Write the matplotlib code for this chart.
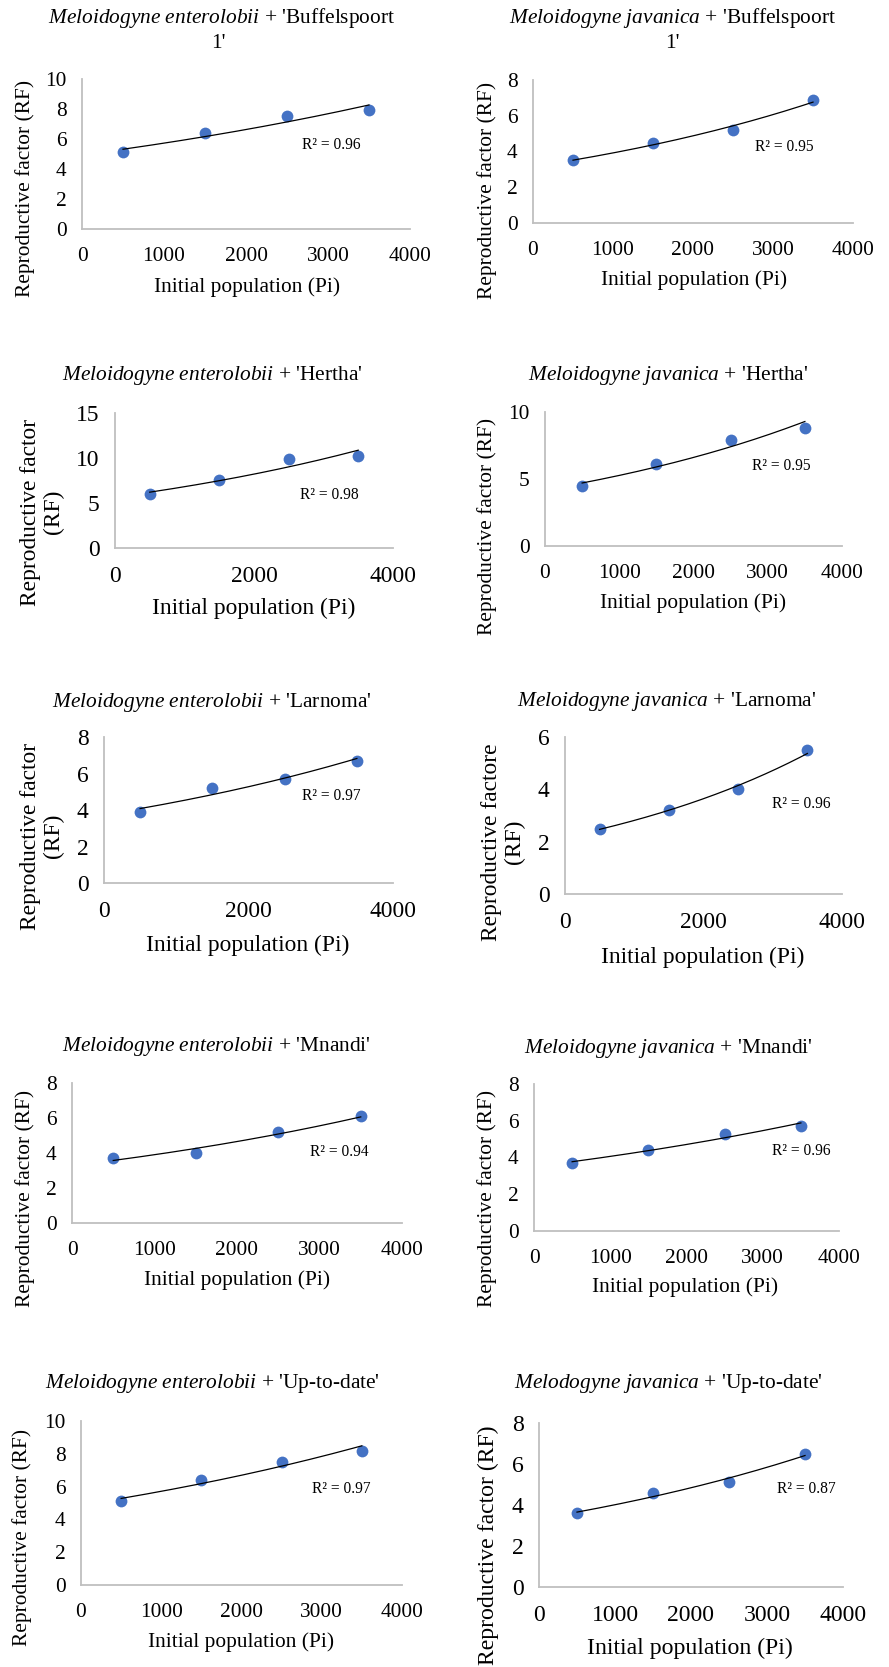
import numpy as np
import matplotlib
matplotlib.use("Agg")
import matplotlib.pyplot as plt

plt.rcParams['font.family'] = ['Liberation Serif', 'DejaVu Serif']
plt.rcParams['mathtext.fontset'] = 'custom'
plt.rcParams['mathtext.rm'] = 'Liberation Serif'
plt.rcParams['mathtext.it'] = 'Liberation Serif:italic'

# ---------------- data ----------------
pi_levels = [500, 1500, 2500, 3500]

species = ["Meloidogyne enterolobii", "Meloidogyne javanica",
           "Meloidogyne enterolobii", "Meloidogyne javanica",
           "Meloidogyne enterolobii", "Meloidogyne javanica",
           "Meloidogyne enterolobii", "Meloidogyne javanica",
           "Meloidogyne enterolobii", "Melodogyne javanica"]
cultivars = ["'Buffelspoort", "'Buffelspoort", "'Hertha'", "'Hertha'",
             "'Larnoma'", "'Larnoma'", "'Mnandi'", "'Mnandi'",
             "'Up-to-date'", "'Up-to-date'"]
title_line2 = ["1'", "1'", "", "", "", "", "", "", "", ""]

rf_me_buffelspoort = [5.1, 6.4, 7.5, 7.9]
rf_mj_buffelspoort = [3.5, 4.5, 5.2, 6.9]
rf_me_hertha = [6.0, 7.5, 9.9, 10.2]
rf_mj_hertha = [4.5, 6.1, 7.9, 8.8]
rf_me_larnoma = [3.9, 5.2, 5.7, 6.7]
rf_mj_larnoma = [2.5, 3.2, 4.0, 5.5]
rf_me_mnandi = [3.7, 4.0, 5.2, 6.1]
rf_mj_mnandi = [3.7, 4.4, 5.3, 5.7]
rf_me_uptodate = [5.1, 6.4, 7.5, 8.2]
rf_mj_uptodate = [3.6, 4.6, 5.1, 6.5]
rf_series = [rf_me_buffelspoort, rf_mj_buffelspoort, rf_me_hertha, rf_mj_hertha,
             rf_me_larnoma, rf_mj_larnoma, rf_me_mnandi, rf_mj_mnandi,
             rf_me_uptodate, rf_mj_uptodate]

r2_values = ["0.96", "0.95", "0.98", "0.95", "0.97", "0.96", "0.94", "0.96", "0.97", "0.87"]

ylabels = ["Reproductive factor (RF)", "Reproductive factor (RF)",
           "Reproductive factor\n(RF)", "Reproductive factor (RF)",
           "Reproductive factor\n(RF)", "Reproductive factore\n(RF)",
           "Reproductive factor (RF)", "Reproductive factor (RF)",
           "Reproductive factor (RF)", "Reproductive factor (RF)"]
xlabel_text = "Initial population (Pi)"

y_max = [10, 8, 15, 10, 8, 6, 8, 8, 10, 8]
y_step = [2, 2, 5, 5, 2, 2, 2, 2, 2, 2]
x_step = [1000, 1000, 2000, 1000, 2000, 2000, 1000, 1000, 1000, 1000]
x_max = 4000

# ---------------- layout (pixels in 889x1667 canvas) ----------------
W, H = 889, 1667
# axes: x0, x1, y_top, y_bottom
axes_px = [(82, 410, 79, 229), (533, 853, 80, 223),
           (115, 393, 413, 548), (545, 842, 412, 546),
           (104, 393, 737, 883), (565, 842, 737, 894),
           (72, 402, 1083, 1223), (534, 839, 1084, 1231),
           (81, 402, 1421, 1585), (539, 843, 1423, 1587)]
fsz = [15.4, 15.4, 16.9, 15.4, 16.9, 16.9, 15.4, 15.4, 15.4, 17.1]
title_pos = [(222, 18), (673, 18), (212, 375), (668, 375), (212, 702),
             (667, 701), (216, 1047), (668, 1048), (212, 1383), (668, 1383)]
title2_pos = [(218, 43), (672, 43)]
ylab_pos = [(25, 188), (487, 190), (42, 512), (487, 526), (42, 836),
            (503, 842), (25, 1198), (487, 1198), (22, 1537), (488, 1545)]
xlab_pos = [(247, 287), (694, 280), (254, 608), (693, 603), (248, 945),
            (703, 957), (237, 1280), (685, 1287), (241, 1642), (690, 1648)]
r2_pos = [(302, 145), (755, 147), (300, 495), (752, 466), (302, 796),
          (772, 804), (310, 1152), (772, 1151), (312, 1489), (777, 1489)]

title_fs = 15.4
r2_fs = 11.2
marker_color = "#4472C4"
axis_color = "#BFBFBF"


def fx(px):
    return px / W


def fy(py):
    return 1 - py / H


fig = plt.figure(figsize=(W / 100, H / 100), dpi=100)
fig.patch.set_facecolor("white")

for i in range(10):
    x0, x1, yt, yb = axes_px[i]
    ax = fig.add_axes([fx(x0), fy(yb), (x1 - x0) / W, (yb - yt) / H])
    x = np.array(pi_levels, dtype=float)
    y = np.array(rf_series[i], dtype=float)
    ax.scatter(x, y, s=72, color=marker_color, zorder=3, linewidths=0,
               clip_on=False)
    b, a = np.polyfit(x, np.log(y), 1)
    xx = np.linspace(x.min(), x.max(), 200)
    ax.plot(xx, np.exp(a) * np.exp(b * xx), color="black", lw=0.9, zorder=4)
    ax.set_xlim(0, x_max)
    ax.set_ylim(0, y_max[i])
    ax.set_xticks(np.arange(0, x_max + 1, x_step[i]))
    ax.set_yticks(np.arange(0, y_max[i] + 0.001, y_step[i]))
    for s in ["top", "right"]:
        ax.spines[s].set_visible(False)
    for s in ["left", "bottom"]:
        ax.spines[s].set_color(axis_color)
        ax.spines[s].set_linewidth(1.3)
    ax.tick_params(axis="both", length=0, labelsize=fsz[i], colors="black")
    ax.tick_params(axis="x", pad=13)
    ax.tick_params(axis="y", pad=11)
    ax.set_facecolor("none")

    # title
    tx, ty = title_pos[i]
    sp = species[i].replace(" ", r"\ ")
    fig.text(fx(tx), fy(ty), r"$\mathit{" + sp + "}$ + " + cultivars[i],
             ha="center", va="center", fontsize=title_fs)
    if title_line2[i]:
        t2x, t2y = title2_pos[i]
        fig.text(fx(t2x), fy(t2y), title_line2[i], ha="center", va="center",
                 fontsize=title_fs)
    # labels
    lx, ly = ylab_pos[i]
    fig.text(fx(lx), fy(ly), ylabels[i], rotation=90, ha="center", va="center",
             fontsize=fsz[i], multialignment="center", linespacing=1.1)
    xlx, xly = xlab_pos[i]
    fig.text(fx(xlx), fy(xly), xlabel_text, ha="center", va="center",
             fontsize=fsz[i])
    rx, ry = r2_pos[i]
    fig.text(fx(rx), fy(ry), "R\u00b2 = " + r2_values[i], ha="left",
             va="center", fontsize=r2_fs)

fig.savefig("out.png", dpi=100, facecolor="white")
